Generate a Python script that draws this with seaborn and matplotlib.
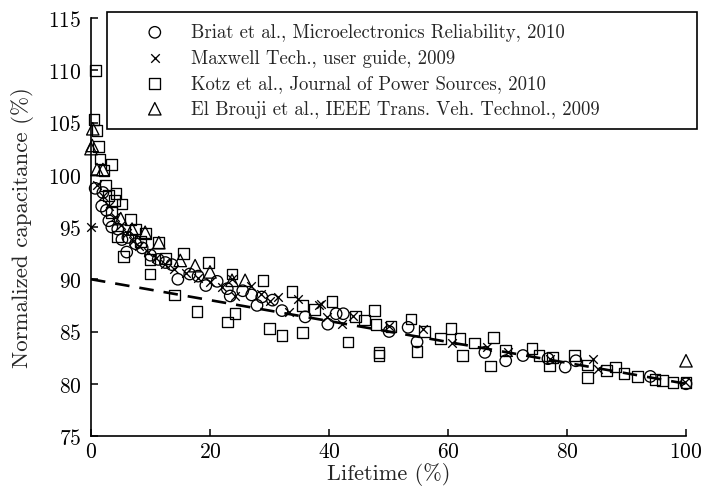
import matplotlib
matplotlib.use("Agg")
import matplotlib.pyplot as plt
import seaborn as sns
import numpy as np

# Briat et al. (circles)
briat_life = [0.7, 2.0, 1.8, 2.6, 3.0, 3.5, 4.5, 5.2, 6.2, 6.0, 7.5, 8.6, 10.0, 11.3,
              12.5, 13.6, 14.6, 16.6, 18.0, 19.3, 21.2, 22.9, 23.4, 25.5, 27.0, 27.9,
              28.7, 30.5, 32.1, 36.0, 39.8, 41.2, 42.4, 50.1, 53.3, 54.8, 66.2, 69.7,
              72.6, 76.8, 79.7, 81.5, 94.0, 100.0]
briat_cap = [98.7, 98.3, 97.0, 96.6, 95.6, 95.0, 94.8, 93.8, 94.0, 92.6, 93.4, 93.0, 92.3, 91.9,
             91.6, 91.4, 90.0, 90.5, 90.3, 89.4, 89.8, 89.1, 88.4, 88.9, 88.5, 87.5,
             88.3, 88.0, 87.0, 86.4, 85.7, 86.7, 86.7, 85.0, 85.4, 84.0, 83.0, 82.2,
             82.7, 82.4, 81.6, 82.2, 80.7, 80.0]

# Maxwell Tech. (crosses)
maxwell_life = [0.0, 1.0, 2.0, 3.0, 4.0, 5.0, 6.0, 7.0, 8.0, 9.5, 11.0, 12.5, 14.0, 16.0,
                18.0, 20.0, 22.0, 23.7, 24.2, 26.9, 28.5, 30.0, 31.5, 33.3, 34.8, 38.3,
                38.7, 39.7, 42.2, 44.0, 50.0, 55.8, 60.7, 66.6, 70.1, 77.1, 84.4, 85.2, 99.8]
maxwell_cap = [95.0, 99.0, 98.0, 97.0, 96.0, 95.2, 94.4, 93.7, 93.2, 92.6, 92.0, 91.5, 91.0, 90.6,
               90.1, 89.7, 89.3, 90.0, 88.4, 89.4, 88.6, 87.9, 88.3, 86.9, 88.1, 87.5,
               87.6, 86.4, 85.7, 86.5, 85.5, 85.2, 83.9, 83.5, 83.0, 82.4, 82.4, 81.4, 80.2]

# Kotz et al. (squares)
kotz_life = [0.7, 0.5, 1.0, 1.3, 1.5, 2.2, 3.5, 2.5, 3.0, 4.0, 4.2, 5.2, 3.5, 4.4, 6.6, 5.4,
             7.5, 9.1, 8.3, 11.4, 9.9, 9.9, 12.5, 14.0, 15.6, 17.8, 19.7, 23.0, 24.2, 23.7,
             28.9, 30.0, 32.1, 33.8, 35.6, 35.6, 37.6, 40.5, 43.2, 44.4, 46.0, 47.6, 47.9,
             48.4, 48.4, 50.4, 53.8, 54.8, 56.1, 58.7, 60.5, 62.0, 62.4, 64.5, 67.6, 67.2,
             69.7, 74.1, 75.3, 77.1, 77.5, 81.2, 83.4, 83.5, 86.6, 88.2, 89.6, 91.8, 94.8,
             96.1, 97.8, 100.0]
kotz_cap = [110.0, 105.3, 104.2, 102.7, 101.5, 100.4, 101.0, 99.0, 98.0, 97.5, 98.2, 97.2, 96.4,
            94.1, 95.7, 92.2, 94.8, 94.4, 93.6, 93.5, 91.9, 90.5, 92.0, 88.5, 92.5, 86.9, 91.6,
            85.9, 86.7, 90.5, 89.9, 85.3, 84.6, 88.8, 87.5, 84.9, 87.1, 87.9, 84.0, 86.4, 86.1,
            87.0, 85.7, 83.0, 82.7, 85.5, 86.2, 83.1, 85.0, 84.3, 85.3, 84.3, 82.7, 83.9, 84.4,
            81.7, 83.2, 83.4, 82.7, 81.7, 82.5, 82.7, 81.8, 80.6, 81.3, 81.6, 81.0, 80.7, 80.4,
            80.3, 80.1, 80.1]

# El Brouji et al. (triangles)
brouji_life = [0.3, 0.0, 0.2, 1.0, 2.0, 5.0, 6.9, 9.1, 11.4, 15.0, 17.5, 20.0, 23.7, 25.9, 100.0]
brouji_cap = [104.4, 102.5, 102.8, 100.5, 100.5, 95.8, 94.8, 94.5, 93.5, 91.8, 91.3, 90.7,
              89.9, 89.9, 82.2]

# Linear reference trend
trend_life = [0, 100]
trend_cap = [90, 80]

x_ticks = [0, 20, 40, 60, 80, 100]
y_ticks = [75, 80, 85, 90, 95, 100, 105, 110, 115]

labels = ["Briat et al., Microelectronics Reliability, 2010",
          "Maxwell Tech., user guide, 2009",
          "Kotz et al., Journal of Power Sources, 2010",
          "El Brouji et al., IEEE Trans. Veh. Technol., 2009"]

sns.set_style("ticks")
plt.rcParams["font.family"] = ["cmr10", "DejaVu Serif"]
plt.rcParams["axes.formatter.use_mathtext"] = True
plt.rcParams["mathtext.fontset"] = "cm"

fig = plt.figure(figsize=(7.02, 4.89), dpi=100)
ax = fig.add_axes([91 / 702, 1 - 437 / 489, (686 - 91) / 702, (437 - 19) / 489])

sns.lineplot(x=trend_life, y=trend_cap, ax=ax, color="black", linewidth=1.9,
             dashes=False, zorder=1)
ax.lines[0].set_dashes([5.5, 3.8])

common = dict(ax=ax, color="black", facecolor="none", edgecolor="black",
              linewidth=0.95, zorder=3, clip_on=False)
sns.scatterplot(x=briat_life, y=briat_cap, marker="o", s=68, label=labels[0], **common)
sns.scatterplot(x=maxwell_life, y=maxwell_cap, marker="x", s=38, label=labels[1],
                ax=ax, color="black", linewidth=0.95, zorder=3, clip_on=False)
sns.scatterplot(x=kotz_life, y=kotz_cap, marker="s", s=60, label=labels[2], **common)
sns.scatterplot(x=brouji_life, y=brouji_cap, marker="^", s=80, label=labels[3], **common)

ax.set_xlim(0, 100)
ax.set_ylim(75, 115)
ax.set_xticks(x_ticks)
ax.set_yticks(y_ticks)
ax.tick_params(direction="in", length=5, width=1.1, labelsize=15.5, colors="black")
ax.tick_params(axis="x", pad=4)
ax.tick_params(axis="y", pad=7)
for side in ["top", "right"]:
    ax.spines[side].set_visible(False)
for side in ["left", "bottom"]:
    ax.spines[side].set_linewidth(1.2)
    ax.spines[side].set_color("black")

ax.set_xlabel("Lifetime (%)", fontsize=16, labelpad=1)
ax.set_ylabel("Normalized capacitance (%)", fontsize=16.5, labelpad=10)

handles, labs = ax.get_legend_handles_labels()
leg = ax.legend(handles, labs, loc="upper left",
                bbox_to_anchor=(107 / 702, 1 - 124 / 489, (697 - 107) / 702, (124 - 13) / 489),
                bbox_transform=fig.transFigure, mode="expand", fontsize=13.5,
                frameon=True, fancybox=False, framealpha=1, edgecolor="black",
                borderpad=0.6, handlelength=3.9, handletextpad=0.0, labelspacing=0.4,
                borderaxespad=0)
leg.get_frame().set_linewidth(1.2)

fig.savefig("out.png", dpi=100)
